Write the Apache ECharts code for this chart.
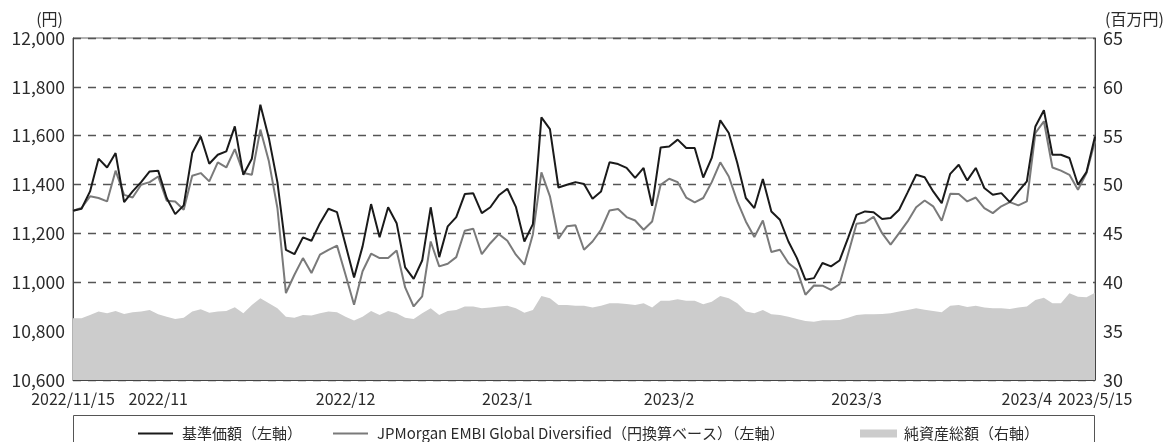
<!DOCTYPE html>
<html><head><meta charset="utf-8">
<script src="https://cdn.jsdelivr.net/npm/echarts@6/dist/echarts.min.js"></script>
<style>html,body{margin:0;padding:0;background:#fff}#c{width:1175px;height:442px}</style>
</head><body><div id="c"></div>
<script>
// business days 2022/11/15 - 2023/5/15
const dates = [
'2022/11/15','2022/11/16','2022/11/17','2022/11/18','2022/11/21','2022/11/22','2022/11/24','2022/11/25','2022/11/28','2022/11/29','2022/11/30',
'2022/12/1','2022/12/2','2022/12/5','2022/12/6','2022/12/7','2022/12/8','2022/12/9','2022/12/12','2022/12/13','2022/12/14','2022/12/15','2022/12/16','2022/12/19','2022/12/20','2022/12/21','2022/12/22','2022/12/23','2022/12/26','2022/12/27','2022/12/28','2022/12/29','2022/12/30',
'2023/1/4','2023/1/5','2023/1/6','2023/1/10','2023/1/11','2023/1/12','2023/1/13','2023/1/16','2023/1/17','2023/1/18','2023/1/19','2023/1/20','2023/1/23','2023/1/24','2023/1/25','2023/1/26','2023/1/27','2023/1/30','2023/1/31',
'2023/2/1','2023/2/2','2023/2/3','2023/2/6','2023/2/7','2023/2/8','2023/2/9','2023/2/10','2023/2/13','2023/2/14','2023/2/15','2023/2/16','2023/2/17','2023/2/20','2023/2/21','2023/2/22','2023/2/24','2023/2/27','2023/2/28',
'2023/3/1','2023/3/2','2023/3/3','2023/3/6','2023/3/7','2023/3/8','2023/3/9','2023/3/10','2023/3/13','2023/3/14','2023/3/15','2023/3/16','2023/3/17','2023/3/20','2023/3/22','2023/3/23','2023/3/24','2023/3/27','2023/3/28','2023/3/29','2023/3/30','2023/3/31',
'2023/4/3','2023/4/4','2023/4/5','2023/4/6','2023/4/7','2023/4/10','2023/4/11','2023/4/12','2023/4/13','2023/4/14','2023/4/17','2023/4/18','2023/4/19','2023/4/20','2023/4/21','2023/4/24','2023/4/25','2023/4/26','2023/4/27','2023/4/28',
'2023/5/1','2023/5/2','2023/5/8','2023/5/9','2023/5/10','2023/5/11','2023/5/12','2023/5/15'
];

// [date, label text, draw tick]
const tickLabels = [
  ['2022/11/15','2022/11/15',false],
  ['2022/11/30','2022/11',true],
  ['2022/12/30','2022/12',true],
  ['2023/1/31','2023/1',true],
  ['2023/2/28','2023/2',true],
  ['2023/3/31','2023/3',true],
  ['2023/4/28','2023/4',true],
  ['2023/5/15','2023/5/15',false]
];

// 基準価額（左軸）
const navValues = [
11293,11301,11372,11506,11470,11529,11328,11372,11410,11454,11457,11345,11279,11315,11529,11597,11485,11522,11536,11638,11440,
11506,11727,11590,11410,11133,11115,11184,11170,11242,11301,11287,11154,11020,11147,11320,11184,11307,11242,11061,11014,
11089,11307,11103,11229,11267,11361,11364,11283,11307,11356,11383,11309,11167,11238,11675,11627,11388,11399,11410,11402,
11342,11372,11491,11484,11468,11427,11468,11313,11552,11556,11584,11550,11550,11429,11509,11663,11611,11488,11345,11304,
11423,11290,11256,11167,11099,11010,11017,11079,11065,11089,11181,11276,11290,11287,11259,11263,11297,11368,11440,11430,
11372,11324,11444,11481,11417,11468,11386,11358,11365,11328,11372,11413,11638,11704,11522,11522,11509,11399,11451,11597
];

// JPMorgan EMBI Global Diversified（円換算ベース）（左軸）
const benchmarkValues = [
11293,11304,11352,11345,11331,11457,11358,11347,11399,11410,11433,11334,11331,11297,11436,11447,11413,11491,11470,11545,11447,
11440,11625,11495,11304,10956,11031,11099,11038,11113,11133,11150,11031,10908,11045,11117,11099,11099,11130,10979,10901,
10942,11167,11065,11076,11103,11211,11219,11115,11160,11197,11170,11113,11072,11197,11450,11352,11178,11229,11233,11133,
11167,11215,11294,11300,11267,11253,11215,11249,11399,11424,11410,11347,11327,11345,11410,11491,11433,11331,11249,11185,
11253,11124,11133,11079,11051,10949,10987,10986,10969,10992,11115,11240,11245,11268,11201,11154,11201,11249,11307,11335,
11311,11252,11362,11361,11331,11347,11304,11283,11311,11328,11315,11331,11611,11659,11470,11457,11440,11379,11447,11577
];

// 純資産総額（右軸, 百万円）
const netAssets = [
36.31,36.31,36.66,37.00,36.83,37.06,36.76,36.93,37.00,37.17,36.72,36.48,36.25,36.38,37.00,37.24,36.89,37.00,37.06,37.44,36.83,
37.68,38.36,37.85,37.34,36.48,36.38,36.66,36.59,36.83,37.00,36.93,36.48,36.08,36.48,37.06,36.66,37.06,36.83,36.38,36.25,
36.83,37.34,36.66,37.06,37.17,37.51,37.51,37.34,37.41,37.51,37.61,37.34,36.89,37.17,38.60,38.36,37.68,37.68,37.61,37.61,
37.41,37.61,37.85,37.85,37.78,37.68,37.85,37.41,38.12,38.12,38.26,38.12,38.12,37.75,38.02,38.60,38.36,37.85,37.00,36.83,
37.17,36.72,36.66,36.48,36.25,36.04,35.97,36.11,36.11,36.14,36.38,36.66,36.72,36.72,36.76,36.83,37.00,37.17,37.34,37.20,
37.06,36.93,37.61,37.68,37.47,37.61,37.41,37.34,37.34,37.27,37.41,37.51,38.19,38.43,37.85,37.85,38.87,38.53,38.46,38.94
];

const seriesNames = ['基準価額（左軸）','JPMorgan EMBI Global Diversified（円換算ベース）（左軸）','純資産総額（右軸）'];
const leftAxis = {min:10600, max:12000, interval:200, name:'(円)'};
const rightAxis = {min:30, max:65, interval:5, name:'(百万円)'};

const FONT = "'Noto Sans CJK JP','Noto Sans',sans-serif";
const TXT = '#2b2b2b';
const labelMap = {}; const tickSet = {};
tickLabels.forEach(t => { labelMap[t[0]] = t[1]; if (t[2]) tickSet[t[0]] = true; });

const chart = echarts.init(document.getElementById('c'), null, {renderer:'canvas'});
chart.setOption({
  animation:false,
  backgroundColor:'#fff',
  textStyle:{fontFamily:FONT},
  grid:{left:73, right:80, top:38, bottom:62, show:true, borderColor:'#666', borderWidth:1},
  xAxis:{
    type:'category', data:dates, boundaryGap:false,
    axisLine:{show:true, lineStyle:{color:'#444', width:1}},
    axisTick:{show:true, inside:true, length:7, lineStyle:{color:'#444', width:1.3},
      interval:(i, v) => !!tickSet[v]},
    axisLabel:{show:true, interval:(i, v) => labelMap[v] !== undefined,
      formatter:v => labelMap[v] || '', color:TXT, fontSize:16, fontFamily:FONT, margin:11},
    splitLine:{show:false}
  },
  yAxis:[
    {type:'value', min:leftAxis.min, max:leftAxis.max, interval:leftAxis.interval, position:'left',
     name:leftAxis.name, nameLocation:'end', nameGap:11,
     nameTextStyle:{align:'right', padding:[0,10,0,0], color:TXT, fontSize:16, fontFamily:FONT},
     axisLine:{show:true, lineStyle:{color:'#444', width:1}},
     axisTick:{show:false},
     axisLabel:{color:TXT, fontSize:17.5, fontFamily:FONT, margin:8, formatter:v => v.toLocaleString('en-US')},
     splitLine:{show:true, lineStyle:{color:'#555', width:1.3, type:[8,7]}}},
    {type:'value', min:rightAxis.min, max:rightAxis.max, interval:rightAxis.interval, position:'right',
     name:rightAxis.name, nameLocation:'end', nameGap:11,
     nameTextStyle:{align:'left', padding:[0,0,0,10], color:TXT, fontSize:16, fontFamily:FONT},
     axisLine:{show:true, lineStyle:{color:'#444', width:1}},
     axisTick:{show:false},
     axisLabel:{color:TXT, fontSize:18, fontFamily:FONT, margin:8},
     splitLine:{show:false}}
  ],
  legend:[
    {left:133, top:421, itemWidth:35, itemHeight:2, itemGap:0, icon:'rect',
     textStyle:{color:TXT, fontSize:15, fontFamily:FONT, padding:[0,0,0,4]},
     data:[{name:seriesNames[0], itemStyle:{color:'#1a1a1a'}}]},
    {left:328, top:421, itemWidth:35, itemHeight:2, itemGap:0, icon:'rect',
     textStyle:{color:TXT, fontSize:15, fontFamily:FONT, padding:[0,0,0,4]},
     data:[{name:seriesNames[1], itemStyle:{color:'#7a7a7a'}}]},
    {left:855, top:421, itemWidth:37, itemHeight:8, itemGap:0, icon:'rect',
     textStyle:{color:TXT, fontSize:15, fontFamily:FONT, padding:[0,0,0,2]},
     data:[{name:seriesNames[2], itemStyle:{color:'#cccccc'}}]}
  ],
  graphic:[
    {type:'rect', shape:{x:73.5, y:415.5, width:1021, height:40}, style:{fill:'none', stroke:'#555', lineWidth:1}, silent:true}
  ],
  series:[
    {name:seriesNames[2], type:'line', yAxisIndex:1, data:netAssets, symbol:'none',
     color:'#cccccc', lineStyle:{width:0, color:'#cccccc'}, areaStyle:{color:'#cccccc', opacity:1}, z:1},
    {name:seriesNames[1], type:'line', yAxisIndex:0, data:benchmarkValues, symbol:'none',
     color:'#7a7a7a', lineStyle:{width:2, color:'#7a7a7a'}, z:3},
    {name:seriesNames[0], type:'line', yAxisIndex:0, data:navValues, symbol:'none',
     color:'#1a1a1a', lineStyle:{width:2, color:'#1a1a1a'}, z:4}
  ]
});
</script></body></html>
